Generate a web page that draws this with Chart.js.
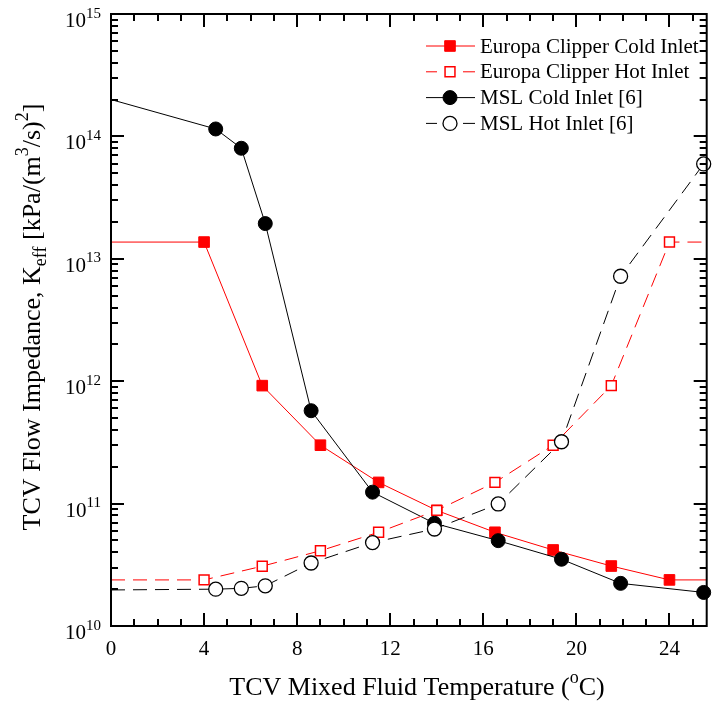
<!DOCTYPE html>
<html>
<head>
<meta charset="utf-8">
<script src="https://cdn.jsdelivr.net/npm/chart.js@4.4.0/dist/chart.umd.min.js"></script>
<style>
  html, body { margin: 0; padding: 0; background: #fff; }
  canvas { display: block; }
</style>
</head>
<body>
<canvas id="myChart" width="715" height="702"></canvas>
<script>
// values (temperature in °C, impedance in kPa/(m3/s)2)
const europaTemps = [0, 4, 6.5, 9, 11.5, 14, 16.5, 19, 21.5, 24, 25.6];
const europaCold = [1.37e13, 1.37e13, 9.2e11, 3.0e11, 1.49e11, 8.8e10, 5.83e10, 4.18e10, 3.09e10, 2.38e10, 2.38e10];
const europaHot = [2.38e10, 2.38e10, 3.08e10, 4.12e10, 5.83e10, 8.8e10, 1.49e11, 3.0e11, 9.2e11, 1.37e13, 1.37e13];
const mslTemps = [0, 4.5, 5.6, 6.63, 8.6, 11.24, 13.9, 16.64, 19.36, 21.9, 25.47];
const mslCold = [2.0e14, 1.15e14, 8.0e13, 1.94e13, 5.74e11, 1.24e11, 6.9e10, 4.98e10, 3.51e10, 2.23e10, 1.88e10];
const mslHot = [1.97e10, 2.0e10, 2.03e10, 2.13e10, 3.27e10, 4.8e10, 6.2e10, 9.93e10, 3.2e11, 7.2e12, 5.96e13];

const seriesNames = ['Europa Clipper Cold Inlet', 'Europa Clipper Hot Inlet', 'MSL Cold Inlet [6]', 'MSL Hot Inlet [6]'];
const xTicks = [0, 4, 8, 12, 16, 20, 24];
const yExponents = [10, 11, 12, 13, 14, 15];

const FONT = '"Liberation Serif", "Times New Roman", serif';

const toPoints = (xs, ys) => xs.map((x, i) => ({ x: x, y: ys[i] }));
// no marker on the points that only carry the line to the axes
const radii = (n, r, skip) => Array.from({ length: n }, (_, i) => skip.includes(i) ? 0 : r);

// text with superscripts (1) and subscripts (-1)
function drawRich(ctx, parts, x, y, align, size) {
  const small = Math.round(size * 0.7);
  const fontOf = (k) => `${k ? small : size}px ${FONT}`;
  let total = 0;
  parts.forEach(([t, k]) => { ctx.font = fontOf(k); total += ctx.measureText(t).width; });
  let cx = align === 'center' ? x - total / 2 : align === 'right' ? x - total : x;
  ctx.textAlign = 'left';
  ctx.textBaseline = 'alphabetic';
  ctx.fillStyle = '#000';
  parts.forEach(([t, k]) => {
    ctx.font = fontOf(k);
    const dy = k === 1 ? -size * 0.45 : k === -1 ? size * 0.22 : 0;
    ctx.fillText(t, cx, y + dy);
    cx += ctx.measureText(t).width;
  });
}

const framePlugin = {
  id: 'frame',
  afterDraw(chart) {
    const c = chart.ctx;
    const xs = chart.scales.x, ys = chart.scales.y;
    const a = chart.chartArea;
    c.save();
    c.strokeStyle = '#000';
    c.lineWidth = 2;
    c.strokeRect(a.left, a.top, a.right - a.left, a.bottom - a.top);

    // x ticks, inward on bottom and top
    c.beginPath();
    for (let v = 0; v <= 25; v++) {
      const px = Math.round(xs.getPixelForValue(v));
      const len = v % 4 === 0 ? 13 : 7;
      c.moveTo(px, a.bottom); c.lineTo(px, a.bottom - len);
      c.moveTo(px, a.top); c.lineTo(px, a.top + len);
    }
    // y ticks, inward on left and right
    for (let e = 10; e < 15; e++) {
      for (let m = 1; m <= 9; m++) {
        const py = Math.round(ys.getPixelForValue(m * Math.pow(10, e)));
        const len = m === 1 ? 13 : 7;
        c.moveTo(a.left, py); c.lineTo(a.left + len, py);
        c.moveTo(a.right, py); c.lineTo(a.right - len, py);
      }
    }
    c.stroke();

    // tick labels
    c.fillStyle = '#000';
    c.font = `21px ${FONT}`;
    c.textAlign = 'center';
    c.textBaseline = 'alphabetic';
    xTicks.forEach(v => c.fillText(String(v), xs.getPixelForValue(v), 655));
    yExponents.forEach(e => {
      const py = ys.getPixelForValue(Math.pow(10, e));
      drawRich(c, [['10', 0], [String(e), 1]], 101, py + 13, 'right', 21);
    });

    // axis titles
    drawRich(c, [['TCV Mixed Fluid Temperature (', 0], ['o', 1], ['C)', 0]], 417, 695, 'center', 26);
    c.save();
    c.translate(40, 317);
    c.rotate(-Math.PI / 2);
    drawRich(c, [['TCV Flow Impedance, K', 0], ['eff', -1], [' [kPa/(m', 0], ['3', 1], ['/s)', 0], ['2', 1], [']', 0]], 0, 0, 'center', 26);
    c.restore();

    // legend
    chart.data.datasets.forEach((ds, i) => {
      const y = 46 + i * 25.8;
      c.strokeStyle = ds.borderColor;
      c.lineWidth = ds.borderWidth;
      c.beginPath();
      if (ds.borderDash) {
        c.moveTo(426, y); c.lineTo(437, y);
        c.moveTo(463, y); c.lineTo(475, y);
      } else {
        c.moveTo(426, y); c.lineTo(475, y);
      }
      c.stroke();
      c.fillStyle = ds.pointBackgroundColor;
      c.strokeStyle = ds.pointBorderColor;
      c.lineWidth = ds.pointBorderWidth;
      Chart.helpers.drawPoint(c, { pointStyle: ds.pointStyle, radius: ds.legendRadius, borderWidth: ds.pointBorderWidth, rotation: 0 }, 450, y);
      c.fillStyle = '#000';
      c.font = `21px ${FONT}`;
      c.textAlign = 'left';
      c.textBaseline = 'middle';
      c.fillText(ds.label, 480, y + 1);
    });
    c.restore();
  }
};

const ctx = document.getElementById('myChart').getContext('2d');
const myChart = new Chart(ctx, {
  type: 'scatter',
  data: {
    datasets: [{
      label: seriesNames[0],
      data: toPoints(europaTemps, europaCold),
      showLine: true,
      borderColor: '#ff0000',
      borderWidth: 1,
      pointStyle: 'rect',
      pointRadius: radii(europaTemps.length, 7.5, [0, europaTemps.length - 1]),
      legendRadius: 7.5,
      pointBackgroundColor: '#ff0000',
      pointBorderColor: '#ff0000',
      pointBorderWidth: 1,
      order: 4,
      clip: false
    }, {
      label: seriesNames[1],
      data: toPoints(europaTemps, europaHot),
      showLine: true,
      borderColor: '#ff0000',
      borderWidth: 1,
      borderDash: [14, 8],
      pointStyle: 'rect',
      pointRadius: radii(europaTemps.length, 7, [0, europaTemps.length - 1]),
      legendRadius: 7,
      pointBackgroundColor: '#ffffff',
      pointBorderColor: '#ff0000',
      pointBorderWidth: 1.5,
      order: 2,
      clip: false
    }, {
      label: seriesNames[2],
      data: toPoints(mslTemps, mslCold),
      showLine: true,
      borderColor: '#000000',
      borderWidth: 1,
      pointStyle: 'circle',
      pointRadius: radii(mslTemps.length, 7, [0]),
      legendRadius: 7,
      pointBackgroundColor: '#000000',
      pointBorderColor: '#000000',
      pointBorderWidth: 1,
      order: 3,
      clip: false
    }, {
      label: seriesNames[3],
      data: toPoints(mslTemps, mslHot),
      showLine: true,
      borderColor: '#000000',
      borderWidth: 1,
      borderDash: [14, 8],
      pointStyle: 'circle',
      pointRadius: radii(mslTemps.length, 7, [0]),
      legendRadius: 7,
      pointBackgroundColor: '#ffffff',
      pointBorderColor: '#000000',
      pointBorderWidth: 1.3,
      order: 1,
      clip: false
    }]
  },
  options: {
    responsive: false,
    animation: false,
    layout: { padding: { left: 111, top: 14, right: 1, bottom: 76 } },
    elements: { line: { tension: 0 } },
    scales: {
      x: { type: 'linear', min: 0, max: 25.6, display: false },
      y: { type: 'logarithmic', min: 1e10, max: 1e15, display: false }
    },
    plugins: {
      legend: { display: false },
      tooltip: { enabled: false }
    }
  },
  plugins: [framePlugin]
});
</script>
</body>
</html>
